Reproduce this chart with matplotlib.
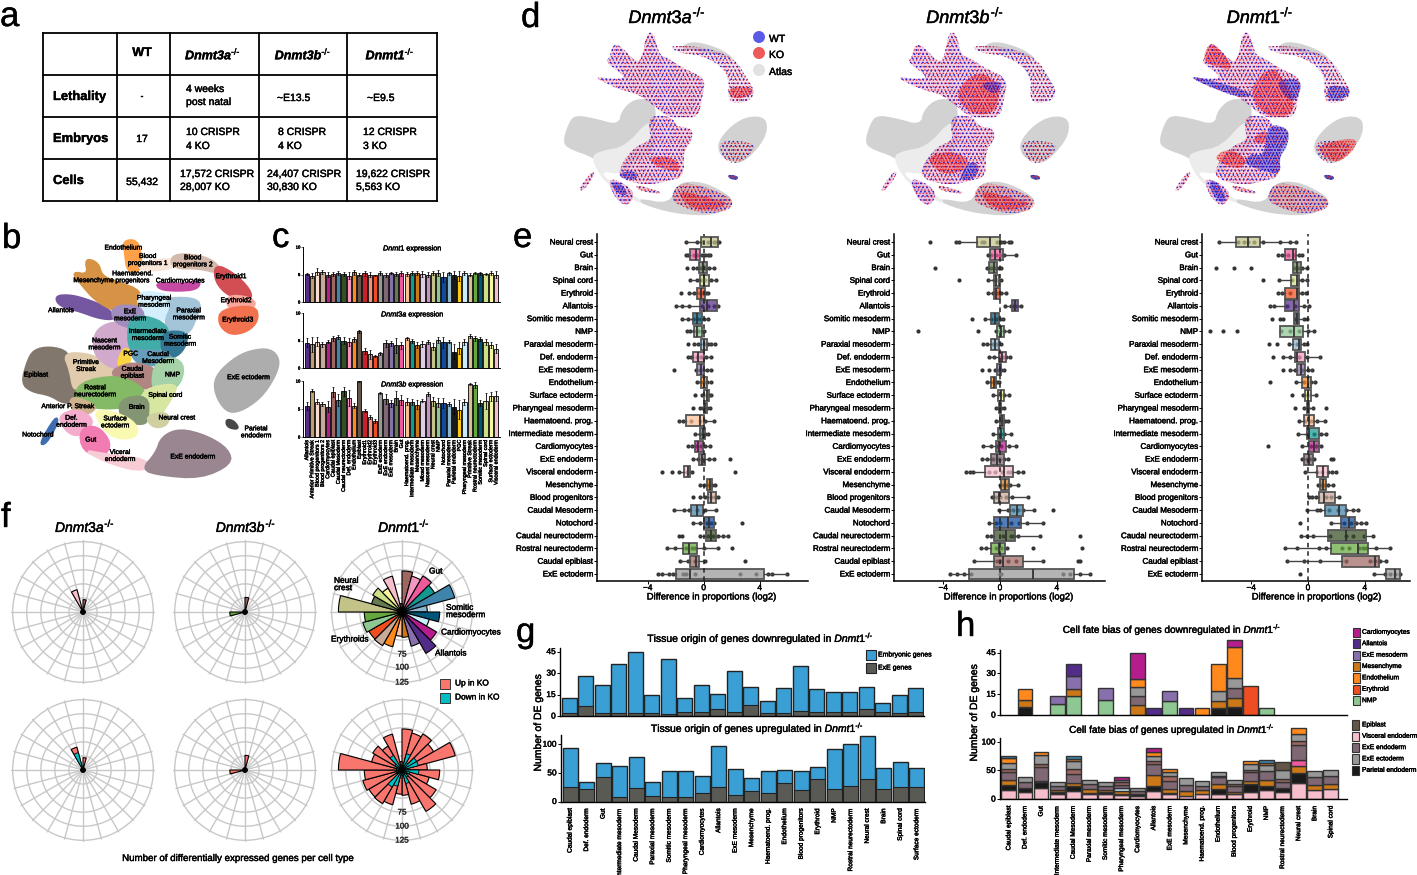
import numpy as np
import matplotlib
matplotlib.use('Agg')
import matplotlib.pyplot as plt
import matplotlib.patheffects as pe
from matplotlib.patches import Polygon, Rectangle, Circle
from matplotlib.text import Text

plt.rcParams['font.family'] = ['Liberation Sans', 'DejaVu Sans']
plt.rcParams['mathtext.fontset'] = 'custom'
plt.rcParams['mathtext.rm'] = 'Liberation Sans'
plt.rcParams['mathtext.it'] = 'Liberation Sans:italic'
plt.rcParams['mathtext.bf'] = 'Liberation Sans:bold'
plt.rcParams['mathtext.bfit'] = 'Liberation Sans:italic:bold'
plt.rcParams['hatch.linewidth'] = 0.65

W, H = 1417, 875

# cell type colours
COL = {
    'Allantois': '#532C8A', 'Anterior Primitive Streak': '#C19F70', 'Blood progenitors 1': '#F9DECF',
    'Blood progenitors 2': '#C9A997', 'Blood progenitors': '#C9A997', 'Cardiomyocytes': '#B51D8D',
    'Caudal epiblast': '#9E6762', 'Caudal Mesoderm': '#3F84AA', 'Caudal neurectoderm': '#354E23',
    'Def. endoderm': '#F397C0', 'Endothelium': '#FF891C', 'Epiblast': '#635547', 'Erythroid1': '#C72228',
    'Erythroid2': '#F79083', 'Erythroid3': '#EF4E22', 'Erythroid': '#EF4E22', 'ExE ectoderm': '#989898',
    'ExE endoderm': '#7F6874', 'ExE mesoderm': '#8870AD', 'Brain': '#647A4F', 'Gut': '#EF5A9D',
    'Haematoend. prog.': '#FBBE92', 'Intermediate mesoderm': '#139992', 'Mesenchyme': '#CC7818',
    'Mixed mesoderm': '#DFCDE4', 'Nascent mesoderm': '#C594BF', 'Neural crest': '#C3C388', 'NMP': '#8EC792',
    'Notochord': '#0F4A9C', 'Paraxial mesoderm': '#8DB5CE', 'Parietal endoderm': '#1A1A1A', 'PGC': '#FACB12',
    'Pharyngeal mesoderm': '#C9EBFB', 'Primitive Streak': '#DABE99', 'Rostral neurectoderm': '#65A83E',
    'Somitic mesoderm': '#005579', 'Spinal cord': '#CDE088', 'Surface ectoderm': '#F7F79E',
    'Visceral endoderm': '#F6BFCB',
}

# panel a
table_x = [43, 117, 170, 259, 347, 437]
table_y = [33, 75, 117, 159, 201]

# panel b, outlines (3x crop coordinates)
atlas_b = {
    'Epiblast': [(65,490),(80,430),(100,390),(150,380),(205,395),(220,450),(230,545),(190,550),(150,525),(95,515)],
    'Primitive Streak': [(190,400),(260,400),(320,425),(350,450),(320,485),(240,500),(220,510),(210,450)],
    'Nascent mesoderm': [(295,325),(340,305),(390,315),(395,390),(370,445),(345,445),(320,435),(285,405),(280,360)],
    'Allantois': [(165,228),(210,225),(260,238),(320,262),(350,298),(300,296),(240,274),(178,258)],
    'Mesenchyme': [(215,155),(265,165),(255,115),(295,128),(305,168),(350,185),(425,212),(420,265),(400,295),(350,275),(290,245),(245,195)],
    'Endothelium': [(370,62),(412,60),(425,110),(420,155),(382,155),(375,100)],
    'Blood progenitors 1': [(410,130),(525,112),(525,145),(430,155)],
    'Blood progenitors 2': [(515,102),(600,105),(655,132),(655,160),(600,145),(515,145)],
    'Erythroid1': [(645,132),(702,160),(750,208),(755,240),(688,230),(645,185)],
    'Erythroid2': [(678,225),(755,232),(770,262),(688,275)],
    'Erythroid3': [(662,268),(768,256),(775,302),(742,335),(690,345),(655,312)],
    'Cardiomyocytes': [(468,188),(550,192),(602,182),(592,208),(530,213),(478,208)],
    'Pharyngeal mesoderm': [(412,212),(505,222),(525,262),(505,305),(470,295),(418,274)],
    'Paraxial mesoderm': [(495,232),(605,236),(590,292),(565,345),(505,345),(495,300),(515,260)],
    'ExE mesoderm': [(335,258),(425,256),(435,312),(390,325),(340,304)],
    'Intermediate mesoderm': [(385,298),(432,285),(505,315),(505,375),(440,405),(385,395)],
    'Somitic mesoderm': [(485,335),(565,335),(555,385),(522,415),(485,405)],
    'Caudal Mesoderm': [(385,388),(440,392),(492,392),(525,422),(480,436),(415,436)],
    'PGC': [(365,388),(392,388),(390,435),(350,445)],
    'Caudal epiblast': [(335,450),(400,425),(475,448),(465,505),(400,505),(345,475)],
    'NMP': [(465,428),(522,410),(555,440),(535,505),(470,515),(455,492)],
    'Rostral neurectoderm': [(235,488),(350,465),(425,498),(445,545),(360,565),(285,565),(225,545)],
    'Spinal cord': [(425,508),(535,488),(515,535),(475,595),(438,595),(425,570)],
    'Brain': [(355,538),(445,525),(445,595),(432,615),(365,605)],
    'Neural crest': [(435,588),(505,575),(505,615),(460,625)],
    'Anterior Primitive Streak': [(210,525),(295,558),(262,585),(215,575)],
    'Surface ectoderm': [(280,565),(372,585),(415,620),(405,655),(345,655),(305,622)],
    'Def. endoderm': [(170,590),(232,565),(285,600),(252,645),(208,645)],
    'Notochord': [(118,672),(168,588),(174,608),(138,672)],
    'Gut': [(238,628),(292,616),(335,670),(312,710),(248,694)],
    'Visceral endoderm': [(248,690),(312,702),(445,718),(435,755),(340,735)],
    'ExE endoderm': [(485,650),(540,626),(622,648),(685,688),(695,732),(602,775),(478,765),(425,748),(468,700)],
    'ExE ectoderm': [(645,470),(698,418),(750,392),(812,386),(840,420),(824,472),(782,534),(720,575),(678,575),(645,522)],
    'Parietal endoderm': [(678,598),(702,603),(718,628),(682,622)],
}
b_labels = [
    ('Endothelium',370,84),('Blood\nprogenitors 1',443,120),('Blood\nprogenitors 2',578,124),('Erythroid1',693,170),
    ('Haematoend.\nprogenitors',397,172),('Mesenchyme',280,182),('Cardiomyocytes',540,183),('Erythroid2',708,242),
    ('Pharyngeal\nmesoderm',462,245),('Allantois',183,272),('Paraxial\nmesoderm',566,283),('ExE\nmesoderm',390,286),
    ('Erythroid3',713,300),('Nascent\nmesoderm',313,373),('Intermediate\nmesoderm',443,345),('Somitic\nmesoderm',540,362),
    ('PGC',392,402),('Caudal\nMesoderm',474,414),('Primitive\nStreak',258,438),('Caudal\nepiblast',397,458),
    ('NMP',517,465),('Epiblast',108,465),('ExE ectoderm',745,473),('Rostral\nneurectoderm',285,514),('Spinal cord',496,526),
    ('Anterior P. Streak',203,560),('Brain',410,562),('Neural crest',530,594),('Surface\nectoderm',345,607),
    ('Def.\nendoderm',214,605),('Notochord',113,645),('Gut',272,660),('Parietal\nendoderm',768,637),
    ('Viceral\nendoderm',360,708),('ExE endoderm',578,711),
]

# panel c
c_labels = ['Allantois', 'Anterior Primitive Streak', 'Blood progenitors 1', 'Blood progenitors 2', 'Cardiomyocytes',
            'Caudal epiblast', 'Caudal Mesoderm', 'Caudal neurectoderm', 'Def. endoderm', 'Endothelium', 'Epiblast',
            'Erythroid1', 'Erythroid2', 'Erythroid3', 'ExE ectoderm', 'ExE endoderm', 'ExE mesoderm', 'Brain', 'Gut',
            'Haematoend. prog.', 'Intermediate mesoderm', 'Mesenchyme', 'Mixed mesoderm', 'Nascent mesoderm',
            'Neural crest', 'NMP', 'Notochord', 'Paraxial mesoderm', 'Parietal endoderm', 'PGC', 'Pharyngeal mesoderm',
            'Primitive Streak', 'Rostral neurectoderm', 'Somitic mesoderm', 'Spinal cord', 'Surface ectoderm',
            'Visceral endoderm']
c_dnmt1 = [5.1,4.8,5.5,5.5,5.0,5.1,5.3,5.1,4.8,5.4,5.0,5.2,5.0,4.9,5.3,4.9,5.3,5.1,5.2,5.1,5.3,5.3,5.1,5.0,5.3,5.3,4.6,5.2,4.9,4.8,5.3,5.0,5.3,5.2,5.1,5.3,5.0]
c_dnmt1_err = [.2,.4,.6,.4,.4,.3,.3,.4,.6,.4,.3,.4,.4,.1,.3,.4,.2,.4,.5,.4,.3,.4,.6,.5,.4,.5,.9,.2,.7,.9,.3,.3,.2,.2,.2,.4,.6]
c_dnmt3a = [4.6,4.3,4.8,4.3,4.8,5.4,5.6,5.0,4.7,5.2,6.7,3.1,2.5,2.2,2.7,4.5,4.5,4.1,4.1,5.4,4.9,4.2,4.4,4.7,3.9,5.1,4.7,4.8,3.0,3.7,4.7,5.8,5.4,5.3,4.7,4.2,3.5]
c_dnmt3a_err = [.8,1.3,.8,.4,.3,.4,.4,.6,.7,.4,.3,.5,.8,.2,.3,.6,.5,1.3,.6,.3,.3,.6,.5,.4,.6,.6,1.0,.3,1.3,1.1,.6,.3,.4,.3,.6,.6,.8]
c_dnmt3b = [5.6,8.3,6.3,5.9,5.4,8.0,6.6,8.2,7.0,5.6,10.0,4.7,3.6,2.9,7.9,6.8,6.0,7.0,6.6,6.3,6.3,5.8,6.5,7.7,6.4,6.1,6.0,5.9,5.4,4.9,6.2,9.5,9.3,6.1,6.4,7.3,7.3]
c_dnmt3b_err = [.7,.3,.4,.4,1.0,.9,1.1,.8,1.4,.5,.2,.3,.3,.4,.2,.9,.6,1.2,.9,.6,.5,.8,.2,.3,.8,.8,.9,.4,1.3,1.7,.5,.2,.5,.5,1.4,.8,.9]

# panel d, outlines from the crop of the first UMAP
d_grey = [
    [(22,430),(40,370),(60,345),(120,355),(190,375),(200,330),(240,295),(295,300),(305,345),(285,420),(210,440),(200,490),(160,510),(110,470),(50,450)],
    [(488,425),(530,375),(580,348),(632,352),(638,395),(612,442),(560,492),(520,482),(492,462)],
    [(365,548),(440,543),(520,583),(538,610),(480,648),(360,642),(258,612),(248,594),(345,612)],
    [(375,145),(400,126),(440,128),(500,148),(545,182),(480,162),(420,152)],
]
d_light = [[(105,470),(140,452),(210,440),(285,355),(305,400),(295,455),(245,475),(205,525),(130,512),(185,560),(262,600),(252,612),(150,552)]]
d_cells = [
    [(110,228),(180,238),(215,232),(150,185),(165,172),(172,135),(195,135),(245,190),(262,170),(275,98),(297,98),(312,165),(340,175),(385,205),(452,235),(442,290),(430,352),(380,352),(340,352),(290,312),(250,282),(190,268)],
    [(290,345),(350,350),(365,380),(412,385),(412,420),(385,452),(388,530),(340,542),(300,552),(250,552),(190,532),(200,490),(240,440),(290,420),(280,380)],
    [(158,535),(200,545),(242,580),(216,622),(178,592)],
    [(68,572),(110,513),(122,520),(86,572)],
    [(240,553),(318,575),(312,582),(250,572)],
    [(362,558),(400,548),(472,568),(538,600),(522,632),(450,642),(385,622),(348,600)],
    [(340,138),(410,138),(472,148),(542,178),(578,238),(598,270),(588,302),(530,312),(518,282),(523,240),(498,197),(440,167),(400,162),(370,157)],
    [(490,430),(530,420),(600,430),(590,460),(550,492),(508,482)],
    [(518,523),(550,528),(548,540),(523,537)],
]
d_cells_alpha = [0.28, 0.28, 0.32, 0.28, 0.4, 0.3, 0.22, 0.08, 0.85]
d_cells_tone = ['#c85ab4', '#c85ab4', '#a84ac0', '#c85ab4', '#e06a80', '#e8707c', '#b878c8', '#f0a0a0', '#3030a0']
d_offsets = [0, 302, 596]
d_titles = ['Dnmt3a', 'Dnmt3b', 'Dnmt1']
d_title_x = [667, 965, 1260]
d_red = [
    [[(520,260),(590,260),(595,285),(530,300)],[(370,570),(450,590),(530,610),(450,635),(385,610)],[(280,470),(360,470),(380,520),(300,500)]],
    [[(290,280),(360,210),(430,250),(420,340),(340,345)],[(370,570),(450,590),(530,610),(450,635),(385,610)],[(200,470),(300,450),(350,500),(260,530)]],
    [[(170,135),(190,130),(240,190),(240,210),(190,200),(155,180)],[(290,270),(360,195),(400,240),(430,300),(420,350),(340,350)],
     [(300,420),(345,385),(350,420),(330,435)],[(190,470),(230,445),(290,475),(270,510),(210,490)],[(495,435),(620,410),(610,450),(560,490),(520,470)]],
]
d_blue = [
    [[(190,520),(240,510),(250,540),(200,535)],[(165,545),(200,550),(220,585),(190,585)]],
    [[(300,540),(340,480),(370,500),(350,540)],[(360,250),(440,240),(420,290)]],
    [[(110,230),(160,235),(280,270),(310,290),(250,290),(190,265)],[(370,240),(455,235),(440,300),(410,300)],[(525,255),(590,260),(600,285),(535,310)],
     [(350,370),(415,385),(410,440),(385,470),(390,525),(330,510),(275,490),(300,460),(340,470)],[(170,540),(200,545),(230,600),(200,610)]],
]

# panel e
e_rows = ['Neural crest', 'Gut', 'Brain', 'Spinal cord', 'Erythroid', 'Allantois', 'Somitic mesoderm', 'NMP',
          'Paraxial mesoderm', 'Def. endoderm', 'ExE mesoderm', 'Endothelium', 'Surface ectoderm', 'Pharyngeal mesoderm',
          'Haematoend. prog.', 'Intermediate mesoderm', 'Cardiomyocytes', 'ExE endoderm', 'Visceral endoderm',
          'Mesenchyme', 'Blood progenitors', 'Caudal Mesoderm', 'Notochord', 'Caudal neurectoderm',
          'Rostral neurectoderm', 'Caudal epiblast', 'ExE ectoderm']
e1_box = [(-.2,.55,1.0),(-.95,-.55,-.25),(-.35,-.05,.2),(-.3,0,.35),(-.45,-.2,.1),(-.3,.25,.95),(-.75,-.5,-.1),(-.7,-.45,-.1),
          (-.2,.05,.25),(-.75,-.4,0),(-.45,-.2,.05),(-.2,.05,.2),(0,.2,.4),(0,.1,.25),(-1.25,-.3,0),(-.3,-.05,.1),(-.65,-.4,-.05),
          (-.35,-.1,.1),(-1.4,-1.1,-.95),(.2,.45,.6),(.3,.5,.85),(-.9,-.5,-.05),(0,.35,.7),(.15,.55,.9),(-1.5,-1.05,-.5),(-.95,-.55,-.35),(-2.0,-1.0,4.3)]
e1_pts = [[-1.25,-.5,-.1,.3,.7,.9,1.1],[-1.3,-1.1,-.7,-.5,-.15,.1,.3,.45],[-1.2,-.75,-.5,-.2,.1,.35,.7],[-1.0,-.5,-.2,.1,.5,.85],
          [-1.6,-1.05,-.7,-.3,-.1,.15,.3],[-2.0,-1.55,-1.05,-.1,.3,.7,1.05],[-1.55,-1.1,-.8,-.5,-.2,.05,.3],[-1.2,-.95,-.7,-.4,-.15,0],
          [-1.1,-.7,-.4,0,.3,.55,.8],[-1.15,-.9,-.5,-.2,.15,.55],[-2.1,-.55,-.3,-.05,.2,.5],[-.5,-.2,0,.2,.5],[-.65,-.1,.15,.35,.5],
          [-.75,-.3,-.05,.2,.45],[-1.8,-1.5,-.9,-.3,.1,.7],[-.65,-.3,0,.1,.3],[-1.1,-.85,-.5,-.2,.1,.45],[-.8,-.4,-.1,.35,.7,1.85],
          [-3.0,-2.25,-1.8,-1.2,-.85,2.2],[-.3,.05,.35,.6,.8],[-.75,-.3,.1,.5,.8,1.05],[-2.15,-1.4,-1.05,-.5,.1,.85],[-.75,-.3,.2,.5,.75,2.75],
          [-1.75,-1.55,-.3,.3,.65,1.05,1.4,1.7],[-2.65,-2.05,-1.3,-.85,-.6,0,1.0,2.0],[-1.7,-1.15,-.6,.1,2.95],
          [-3.3,-3.0,-2.5,-2.2,-1.5,-1.25,-.6,2.6,3.7,4.6,4.85,5.95]]
e2_box = [(-1.65,-.7,0),(-.7,-.35,.2),(-.75,-.4,-.2),(-.45,-.3,-.1),(-.4,-.25,0),(.85,1.05,1.25),(-.65,-.35,-.05),(-.2,.05,.25),
          (-.65,-.35,-.1),(-.1,.15,.4),(-.2,0,.1),(-.6,-.4,-.25),(-.15,.05,.25),(-.1,0,.1),(0,.15,.3),(-.15,.05,.25),(-.3,-.05,.4),
          (-.65,-.2,.3),(-1.05,.3,.95),(.1,.35,.6),(-.4,-.1,.6),(.7,1.2,1.6),(-.45,.55,1.5),(-.4,.45,1.05),(-.6,-.05,.35),(-.4,.2,1.65),(-2.2,2.3,5.2)]
e2_pts = [[-4.9,-3.1,-2.9,-1.3,-1.1,-.2,.05,.3,.6,.75],[-.85,-.6,-.3,0,.3,1.1],[-4.6,-.9,-.6,-.3,-.1,.1],[-2.9,-.85,-.4,-.2,.05],
          [-.85,-.5,-.2,.1,.4],[.35,.8,1.0,1.2,1.45],[-1.95,-1.05,-.6,-.3,0,.2],[-5.8,-1.55,-.25,0,.3,.6],[-1.2,-.9,-.5,-.2,.05],
          [-.75,-.4,0,.2,.45,.7],[-1.25,-.75,-.35,-.1,.1,.3],[-.95,-.6,-.4,-.2,-.05],[-.5,-.1,.1,.3,.6],[-.3,-.1,0,.1,.25],[-.3,0,.2,.35,.55],
          [-.5,-.1,.1,.3,.75],[-1.2,-.6,-.2,.1,.65,1.1],[-1.25,-.9,-.5,-.1,.3,.55],[-2.4,-2.1,-1.9,-.8,-.35,.15,.55,.8,1.25,1.6],
          [0,.25,.5,.7,1.25],[-.55,-.3,0,.4,.85,2.0],[-.05,.55,.95,1.3,1.6,2.4,3.75],[-.75,-.3,0,.75,1.35,1.9,3.05],[-.95,-.6,.2,.8,1.0,1.3,2.85,5.65],
          [-1.35,-1.0,-.3,.1,.5,2.35,5.75],[-1.8,-.2,0,.55,1.15,3.0,5.5,5.6],[-3.5,-3.0,-2.55,-2.05,0,.1,4.45,4.9,5.6,6.35]]
e3_box = [(-5.1,-4.2,-3.35),(-1.65,-1.05,-.85),(-1.05,-.75,-.5),(-1.2,-.75,-.6),(-1.6,-.75,-.6),(-1.6,-1.0,-.6),(-1.0,-.8,-.65),(-2.0,-1.0,-.35),
          (-1.05,-.65,-.5),(-.95,-.75,-.2),(-.8,-.5,-.2),(-.45,0,.2),(-.2,0,.2),(-.1,0,.1),(-.3,.05,.45),(-.1,.1,.75),(.05,.4,.75),(-.25,.05,.35),
          (.65,1.05,1.4),(.85,1.05,1.25),(.75,1.1,1.9),(1.2,2.2,2.65),(2.35,2.9,3.3),(1.4,2.65,4.05),(1.6,3.5,4.2),(2.4,4.7,5.0),(5.5,6.15,6.5)]
e3_pts = [[-6.25,-4.9,-4.5,-4.2,-3.8,-3.2,-2.0,-1.3,-.85],[-2.1,-1.8,-1.4,-1.0,-.6,-.4],[-6.5,-5.2,-4.0,-1.0,-.7,-.4,-.05],[-3.2,-2.05,-1.1,-.7,-.4,-.05],
          [-2.1,-1.8,-1.3,-.7,-.4,-.15],[-2.65,-2.4,-1.5,-.9,-.3,.1],[-2.55,-1.95,-1.75,-.95,-.3,-.1],[-6.9,-6.0,-5.0,-1.9,-1.3,-.6,0,.4],
          [-2.75,-2.15,-1.35,-.8,-.3,-.05],[-2.5,-1.75,-1.3,-.6,-.1,.85],[-1.75,-1.3,-.9,-.4,0,.25],[-2.7,-.85,-.3,.2,.5],[-1.1,-.35,-.1,.1,.55],
          [-.95,-.25,0,.35,1.25],[-.6,-.2,.2,.6,1.2],[-.7,-.1,.4,.95,1.25],[-2.8,-.45,.2,.55,.9],[-.45,-.1,.15,.4,1.6,1.75],[-.2,.6,1.0,1.4,1.7,2.0],
          [.7,.95,1.2,1.4,1.75],[.05,.3,.55,1.3,1.6,2.15],[-.1,.65,.85,1.5,2.1,2.7,3.15,3.55],[-.55,1.65,2.5,3.0,3.4,3.75,4.1],
          [-.5,-.1,.35,1.55,2.7,3.2,3.95,4.6],[-1.6,-.75,.75,1.3,2.4,2.9,3.6,3.9,4.1,4.8,5.8],[-1.5,-.3,.85,2.7,4.4,4.7,5.1,5.5],[-.55,4.65,5.4,5.75,6.1,6.45]]

# panel f
f_types = ['Caudal epiblast', 'Def. endoderm', 'Gut', 'Intermediate mesoderm', 'Caudal Mesoderm', 'Paraxial mesoderm',
           'Somitic mesoderm', 'Pharyngeal mesoderm', 'Cardiomyocytes', 'Allantois', 'ExE mesoderm', 'Mesenchyme',
           'Haematoend. prog.', 'Endothelium', 'Blood progenitors', 'Erythroid', 'NMP', 'Rostral neurectoderm',
           'Neural crest', 'Brain', 'Spinal cord', 'Surface ectoderm', 'Visceral endoderm', 'ExE endoderm']
f_deg = [7.5 + 15 * i for i in range(24)]
f_3a_total = [22,4,4,4,4,4,4,4,4,4,4,4,4,4,4,4,4,4,4,4,4,4,41,4]
f_3b_total = [26,4,4,4,4,4,4,4,4,4,4,4,4,4,4,4,4,27,4,4,4,4,4,4]
f_1_total = [73,66,74,67,97,45,67,50,71,85,63,45,43,64,69,68,72,67,113,56,60,49,66,15]
f_3a_up = [22,4,4,4,4,4,4,4,4,4,4,4,4,4,4,4,4,4,4,4,4,4,42,4]
f_3a_down = [3,2,2,2,2,2,2,2,2,2,2,2,2,2,2,2,2,2,2,2,2,2,32,2]
f_3b_up = [26,4,4,4,4,4,4,4,4,4,4,4,4,4,4,4,4,27,4,4,4,4,4,4]
f_3b_down = [3,2,2,2,2,2,2,2,2,2,2,2,2,3,2,2,2,3,2,2,2,2,2,2]
f_1_up = [73,68,74,65,98,45,67,50,70,85,63,45,43,64,69,68,72,67,113,56,60,49,66,15]
f_1_down = [6,30,15,30,30,10,30,15,10,15,25,10,8,30,35,10,10,10,10,10,15,30,5,5]

# panel g
g_types = ['Caudal epiblast', 'Def. endoderm', 'Gut', 'Intermediate mesoderm', 'Caudal Mesoderm', 'Paraxial mesoderm',
           'Somitic mesoderm', 'Pharyngeal mesoderm', 'Cardiomyocytes', 'Allantois', 'ExE mesoderm', 'Mesenchyme',
           'Haematoend. prog.', 'Endothelium', 'Blood progenitors', 'Erythroid', 'NMP', 'Rostral neurectoderm',
           'Neural crest', 'Brain', 'Spinal cord', 'Surface ectoderm']
g_down_total = [12.5,28,22,36,45,14.5,40,12.5,22,15.5,31.5,20,10.5,19.5,35,19,17,17,20.5,9,14.5,19.5]
g_down_exe = [2,7,2,2,2,2,1.5,3,3,5,3,7.5,2,2,3.5,3,3,3,5,3,2,3]
g_up_total = [93,34,67,62,77,34,54,54,44,97,56,41,53,55,54,61,91,101,115,58,69,58]
g_up_exe = [25,21,42,8,24,10,8,8,15,26,12,18,14,33,20,39,22,27,40,22,25,26]

# panel h
h_types = g_types[:21]
h_down = {
    'Parietal endoderm': [0,6,0,0,0,0,0,0,0,0,0,0,0,5,5.5,0,0,0,0,0,0],
    'NMP': [0,0,0,8,14,0,11,0,0,0,10,0,0,0,0,0,5,0,0,0,0],
    'Mesenchyme': [0,5,0,0,5,0,0,0,7,0,0,0,0,5,7,0,0,0,0,0,0],
    'ExE endoderm': [0,0,0,0,0,0,0,0,7,0,0,0,0,0,7,0,0,0,0,0,0],
    'ExE ectoderm': [0,0,0,0,0,0,0,0,6,0,0,0,0,7,7,0,0,0,0,0,0],
    'ExE mesoderm': [0,0,0,5.5,9,0,8.5,0,0,0,7,0,0,0,0,0,0,0,0,0,0],
    'Endothelium': [0,7.5,0,0,0,0,0,0,6,0,0,0,5,20,22.5,0,0,0,0,0,0],
    'Erythroid': [0,0,0,0,0,0,0,0,0,0,0,0,0,0,0,21,0,0,0,0,0],
    'Allantois': [0,0,0,0,9,0,0,0,0,5,0,5,0,0,0,0,0,0,0,0,0],
    'Cardiomyocytes': [0,0,0,0,0,0,0,0,18.5,0,0,0,0,0,5,0,0,0,0,0,0],
}
h_up = {
    'Visceral endoderm': [15,12,20,9,14,8,9,7,6,14,9,6,8,8,8,13,15,12,28,16,17],
    'Parietal endoderm': [9,8,9,3,8,2,3,2,2,8,1,0,0,10,0,13,7,7,17,0,0],
    'Mesenchyme': [10,0,0,4,6,7,4,5,1,20,8,8,8,8,5,6,11,0,13,8,10],
    'Gut': [0,0,3,0,0,0,0,0,0,0,0,0,0,0,0,0,0,0,10,0,0],
    'Pharyngeal mesoderm': [0,0,0,0,0,0,0,5,0,0,0,0,0,0,0,0,0,0,0,0,0],
    'ExE endoderm': [14,9,24,7,15,9,7,6,5,20,13,11,7,13,10,16,16,11,27,15,14],
    'Caudal epiblast': [4,0,6,0,10,0,0,4,0,4,10,0,0,1,3,3,0,5,7,0,0],
    'ExE ectoderm': [11,10,15,7,13,8,7,4,6,10,7,11,9,8,8,11,10,15,12,10,10],
    'Epiblast': [0,0,0,0,0,0,0,0,0,0,0,0,0,0,0,0,0,15,0,0,0],
    'Endothelium': [9,0,6,0,4,0,0,0,0,7,5,0,0,0,0,5,5,0,11,0,0],
    'Caudal Mesoderm': [4,0,0,0,6,0,0,0,0,0,0,0,0,0,0,0,5,0,0,0,0],
    'Cardiomyocytes': [0,0,0,0,0,0,0,6,0,7,0,0,0,0,0,0,0,0,0,0,0],
}
h_leg_top = ['Cardiomyocytes', 'Allantois', 'ExE mesoderm', 'Mesenchyme', 'Endothelium', 'Erythroid', 'NMP']
h_leg_bot = ['Epiblast', 'Visceral endoderm', 'ExE endoderm', 'ExE ectoderm', 'Parietal endoderm']


def ax_px(x0, y0, x1, y1, **kw):
    ax = fig.add_axes([x0 / W, 1 - y1 / H, (x1 - x0) / W, (y1 - y0) / H], **kw)
    ax.patch.set_alpha(0)
    return ax


def gene(name, bold=False):
    fn = 'mathbfit' if bold else 'mathit'
    return rf'$\{fn}{{{name}}}^{{\text{{-/-}}}}$'


def clean(ax, lw=1.0):
    ax.spines['top'].set_visible(False)
    ax.spines['right'].set_visible(False)
    ax.spines['left'].set_linewidth(lw)
    ax.spines['bottom'].set_linewidth(lw)


def round_off(pts, n=2):
    # corner cutting so the traced outlines look less angular
    p = np.array(pts, dtype=float)
    for _ in range(n):
        q = np.roll(p, -1, axis=0)
        p = np.column_stack([0.75 * p + 0.25 * q, 0.25 * p + 0.75 * q]).reshape(-1, 2)
    return p


def lighten(c, f=0.25):
    return tuple(v + (1 - v) * f for v in matplotlib.colors.to_rgb(c))


fig = plt.figure(figsize=(W / 100, H / 100), dpi=100)
bg = fig.add_axes([0, 0, 1, 1])
bg.set_xlim(0, W)
bg.set_ylim(H, 0)
bg.axis('off')

for letter, x, y in [('a', 0, 26), ('b', 2, 248), ('c', 272, 247), ('d', 521, 27), ('e', 513, 247),
                     ('f', 1, 527), ('g', 516, 642), ('h', 956, 636)]:
    bg.text(x, y, letter, fontsize=25, va='baseline', ha='left')

# a: table
for x in table_x:
    bg.plot([x, x], [table_y[0], table_y[-1]], color='black', lw=1.3, solid_capstyle='projecting')
for y in table_y:
    bg.plot([table_x[0], table_x[-1]], [y, y], color='black', lw=1.3, solid_capstyle='projecting')
bg.text(142, 53, 'WT', fontsize=9, weight='bold', ha='center', va='center')
for x, name in zip([213, 303, 390], d_titles):
    bg.text(x, 54, gene(name, bold=True), fontsize=9, ha='center', va='center')
for y, name in zip([97, 139, 181], ['Lethality', 'Embryos', 'Cells']):
    bg.text(53, y, name, fontsize=9.3, weight='bold', ha='left', va='center')
table_cells = [(142, 96, '-', 'center'), (186, 89, '4 weeks', 'left'), (186, 102, 'post natal', 'left'),
               (277, 98, '~E13.5', 'left'), (367, 98, '~E9.5', 'left'), (142, 139, '17', 'center'),
               (186, 132, '10 CRISPR', 'left'), (186, 146, '4 KO', 'left'), (278, 132, '8 CRISPR', 'left'),
               (278, 146, '4 KO', 'left'), (363, 132, '12 CRISPR', 'left'), (363, 146, '3 KO', 'left'),
               (142, 182, '55,432', 'center'), (180, 174, '17,572 CRISPR', 'left'), (180, 187, '28,007 KO', 'left'),
               (267, 174, '24,407 CRISPR', 'left'), (267, 187, '30,830 KO', 'left'), (356, 174, '19,622 CRISPR', 'left'),
               (356, 187, '5,563 KO', 'left')]
for x, y, s, ha in table_cells:
    bg.text(x, y, s, fontsize=7.5, ha=ha, va='center')

# b: atlas umap
for name, pts in atlas_b.items():
    xy = [(px / 3, 220 + py / 3) for px, py in round_off(pts)]
    c = lighten(COL[name], 0.2)
    bg.add_patch(Polygon(xy, closed=True, fc=c, ec=c, lw=1.6, joinstyle='round'))
for s, px, py in b_labels:
    bg.text(px / 3, 220 + py / 3, s, fontsize=4.9, ha='center', va='center', linespacing=1.0, color='black')

# c: expression bars
c_pos = np.arange(len(c_labels))
c_colors = [COL[n] for n in c_labels]
c_sets = [(247, 302, c_dnmt1, c_dnmt1_err, 'Dnmt1', 249), (313, 368, c_dnmt3a, c_dnmt3a_err, 'Dnmt3a', 315),
          (381, 437, c_dnmt3b, c_dnmt3b_err, 'Dnmt3b', 385)]
for i, (top, bot, vals, errs, name, ty) in enumerate(c_sets):
    ax = ax_px(303, top, 500, bot)
    ax.bar(c_pos, vals, width=0.8, color=c_colors, edgecolor='black', lw=0.6,
           yerr=errs, error_kw=dict(ecolor='black', lw=0.6, capsize=0.9, capthick=0.5))
    ax.set_xlim(-0.7, 36.75)
    ax.set_ylim(0, 10)
    ax.set_yticks([0, 5, 10])
    ax.tick_params(axis='y', labelsize=3, length=1.5, width=0.4, pad=0.5)
    clean(ax, 0.7)
    if i == 2:
        ax.set_xticks(c_pos)
        ax.set_xticklabels(c_labels, rotation=90, fontsize=3.9)
        ax.tick_params(axis='x', length=0, pad=2)
    else:
        ax.set_xticks([])
    bg.text(413, ty, rf'$\mathit{{{name}}}$ expression', fontsize=5.2, ha='center', va='center')

# d: umaps by genotype
for k, off in enumerate(d_offsets):
    to_px = lambda pts: [(555 + off + px / 3, py / 3) for px, py in round_off(pts)]
    for pts in d_grey:
        bg.add_patch(Polygon(to_px(pts), closed=True, fc='#d2d2d2', ec='none'))
    for pts in d_light:
        bg.add_patch(Polygon(to_px(pts), closed=True, fc='#ececec', ec='none'))
    for pts, tone, a in zip(d_cells, d_cells_tone, d_cells_alpha):
        bg.add_patch(Polygon(to_px(pts), closed=True, fc=matplotlib.colors.to_rgba(tone, a), ec='none'))
    for pts in d_red[k]:
        bg.add_patch(Polygon(to_px(pts), closed=True, fc=matplotlib.colors.to_rgba('#ee2a2a', 0.4), ec='none'))
    for pts in d_blue[k]:
        bg.add_patch(Polygon(to_px(pts), closed=True, fc=matplotlib.colors.to_rgba('#2222cc', 0.4), ec='none'))
    for pts in d_cells:
        bg.add_patch(Polygon(to_px(pts), closed=True, fc='none', ec='#e8202a', lw=0, hatch='.....'))
        bg.add_patch(Polygon(to_px(pts), closed=True, fc='none', ec='#2020d0', lw=0, hatch='....'))
    for pts in d_red[k]:
        bg.add_patch(Polygon(to_px(pts), closed=True, fc='none', ec='#f01818', lw=0, hatch='......'))
    for pts in d_blue[k]:
        bg.add_patch(Polygon(to_px(pts), closed=True, fc='none', ec='#1414c8', lw=0, hatch='......'))
    bg.text(d_title_x[k], 17, gene(d_titles[k]), fontsize=13, ha='center', va='center')
for y, c, s in [(37, '#5a5ae6', 'WT'), (53, '#ec5a5a', 'KO'), (70, '#e2e2e2', 'Atlas')]:
    bg.add_patch(Circle((759, y), 6, fc=c, ec='none'))
    bg.text(769, y + 2, s, fontsize=7.5, ha='left', va='center')

# e: boxplots
e_sets = [(e1_box, e1_pts, 597, 808, 14.0, 703.7, 712), (e2_box, e2_pts, 894, 1105, 14.2, 1000, 1009),
          (e3_box, e3_pts, 1202, 1410, 14.2, 1308, 1317)]
for boxes, pts, x0, x1, ppu, zero, lab_x in e_sets:
    ax = ax_px(x0, 234, x1, 581)
    stats = []
    for (q1, med, q3), p in zip(boxes, pts):
        iqr = q3 - q1
        lo = min([v for v in p if v >= q1 - 1.5 * iqr] + [q1])
        hi = max([v for v in p if v <= q3 + 1.5 * iqr] + [q3])
        stats.append(dict(q1=q1, med=med, q3=q3, whislo=lo, whishi=hi, fliers=[]))
    for i, p in enumerate(pts):
        ax.scatter(p, [i] * len(p), s=9, color='#333333', zorder=1, lw=0)
    res = ax.bxp(stats, positions=range(len(e_rows)), widths=0.85, orientation='horizontal', patch_artist=True,
                 showcaps=False, showfliers=False, manage_ticks=False, zorder=2,
                 boxprops=dict(edgecolor='#555555', lw=1.3),
                 medianprops=dict(color='#333333', lw=1.3),
                 whiskerprops=dict(color='#444444', lw=1.0))
    for box, name in zip(res['boxes'], e_rows):
        box.set_facecolor(matplotlib.colors.to_rgba(COL[name], 0.72))
    ax.axvline(0, color='#222222', lw=1.1, ls=(0, (3, 2.5)), zorder=3)
    ax.set_xlim((x0 - zero) / ppu, (x1 - zero) / ppu)
    ax.set_ylim(26.55, -0.63)
    ax.set_yticks(range(len(e_rows)))
    ax.set_yticklabels(e_rows, fontsize=5.8)
    ax.set_xticks([-4, 0, 4])
    ax.set_xticklabels(['\u22124', '0', '4'], fontsize=6)
    ax.tick_params(axis='both', length=2, width=0.7, pad=1)
    clean(ax, 1.1)
    bg.text(lab_x, 597, 'Difference in proportions (log2)', fontsize=6.8, ha='center', va='center')


# f: polar bars
def polar(cx, cy):
    R = 72
    ax = ax_px(cx - R, cy - R, cx + R, cy + R, projection='polar')
    ax.set_theta_zero_location('N')
    ax.set_theta_direction(-1)
    ax.set_rlim(0, 128)
    ax.set_yticks([25, 50, 75, 100, 125])
    ax.set_xticks(np.radians(np.arange(0, 360, 15)))
    ax.set_xticklabels([])
    ax.set_yticklabels([])
    ax.grid(color='#c8c8c8', lw=1.0)
    ax.spines['polar'].set_visible(False)
    ax.set_axisbelow(True)
    return ax


theta = np.radians(f_deg)
f_width = np.radians(15)
f_colors = [COL[n] for n in f_types]
for cx, total in [(83, f_3a_total), (245, f_3b_total), (402, f_1_total)]:
    ax = polar(cx, 612)
    ax.bar(theta, total, width=f_width, color=f_colors, edgecolor='black', lw=0.8)
for cx, up, down in [(83, f_3a_up, f_3a_down), (245, f_3b_up, f_3b_down), (402, f_1_up, f_1_down)]:
    ax = polar(cx, 770)
    ax.bar(theta, up, width=f_width, color='#F8766D', edgecolor='black', lw=0.8)
    ax.bar(theta, down, width=f_width, color='#00BFC4', edgecolor='black', lw=0.6)
for x, name in zip([85, 246, 404], d_titles):
    bg.text(x, 526, gene(name), fontsize=10, ha='center', va='center')

# labels that sit on top of the polar axes
top = fig.add_axes([0, 0, 1, 1], zorder=20)
top.set_xlim(0, W)
top.set_ylim(H, 0)
top.axis('off')
for s, x, y in [('Gut', 429, 572), ('Neural\ncrest', 334, 585), ('Somitic\nmesoderm', 446, 612),
                ('Cardiomyocytes', 441, 633), ('Allantois', 435, 654), ('Erythroids', 331, 640)]:
    top.text(x, y, s, fontsize=6, ha='left', va='center', linespacing=1.05)
for y, s in [(655, '75'), (668, '100'), (683, '125'), (813, '75'), (827, '100'), (841, '125')]:
    top.text(402, y, s, fontsize=5.8, ha='center', va='center', color='#333333')
bg.add_patch(Rectangle((440, 679), 10, 10, fc='#F8766D', ec='#333333', lw=0.7))
bg.add_patch(Rectangle((440, 693), 10, 10, fc='#00BFC4', ec='#333333', lw=0.7))
bg.text(455, 684, 'Up in KO', fontsize=6, va='center')
bg.text(455, 698, 'Down in KO', fontsize=6, va='center')
bg.text(238, 858, 'Number of differentially expressed genes per cell type', fontsize=7, ha='center', va='center')

# g: tissue origin
g_pos = np.arange(len(g_types))
ax = ax_px(560, 648, 924, 716)
ax.bar(g_pos, g_down_total, width=0.9, color='#3A9FD5', edgecolor='#222222', lw=1.0)
ax.bar(g_pos, g_down_exe, width=0.9, color='#5A5A55', edgecolor='#222222', lw=0.8)
ax.set_xlim(-0.55, 21.5)
ax.set_ylim(0, 47.5)
ax.set_yticks([0, 15, 30, 45])
ax.set_xticks([])
ax.tick_params(axis='y', labelsize=6, length=2, width=0.7, pad=1)
clean(ax)

ax = ax_px(561, 735, 925, 801.5)
ax.bar(g_pos, g_up_total, width=0.9, color='#3A9FD5', edgecolor='#222222', lw=1.0)
ax.bar(g_pos, g_up_exe, width=0.9, color='#5A5A55', edgecolor='#222222', lw=0.8)
ax.set_xlim(-0.55, 21.5)
ax.set_ylim(0, 116)
ax.set_yticks([0, 50, 100])
ax.set_xticks(g_pos)
ax.set_xticklabels(g_types, rotation=90, fontsize=4.7)
ax.tick_params(axis='y', labelsize=6, length=2, width=0.7, pad=1)
ax.tick_params(axis='x', length=0, pad=5)
clean(ax)

bg.text(760, 638, 'Tissue origin of genes downregulated in ' + gene('Dnmt1'), fontsize=7.5, ha='center', va='center')
bg.text(757, 728, 'Tissue origin of genes upregulated in ' + gene('Dnmt1'), fontsize=7.5, ha='center', va='center')
bg.text(538, 723, 'Number of DE genes', fontsize=7.5, rotation=90, ha='center', va='center')
bg.add_patch(Rectangle((866, 650), 10, 9.5, fc='#3A9FD5', ec='#222222', lw=0.8))
bg.add_patch(Rectangle((866, 663), 10, 9.5, fc='#5A5A55', ec='#222222', lw=0.8))
bg.text(878, 655, 'Embryonic genes', fontsize=5, va='center')
bg.text(878, 668, 'ExE genes', fontsize=5, va='center')


# h: cell fate bias
def stacked(ax, series):
    bottom = np.zeros(len(h_types))
    for name, vals in series.items():
        vals = np.array(vals, dtype=float)
        ax.bar(h_pos[vals > 0], vals[vals > 0], bottom=bottom[vals > 0], width=0.92, color=COL[name],
               edgecolor='#333333', lw=1.0)
        bottom += vals


h_pos = np.arange(len(h_types))
ax = ax_px(1000, 636, 1347, 715)
stacked(ax, h_down)
ax.set_xlim(-0.55, 21.0)
ax.set_ylim(0, 56.9)
ax.set_yticks([0, 15, 30, 45])
ax.set_xticks([])
ax.tick_params(axis='y', labelsize=6, length=2, width=0.7, pad=1)
clean(ax)
ax.spines['left'].set_bounds(0, 47)

ax = ax_px(1000, 727, 1347, 799)
stacked(ax, h_up)
ax.set_xlim(-0.55, 21.0)
ax.set_ylim(0, 126.3)
ax.set_yticks([0, 50, 100])
ax.set_xticks(h_pos)
ax.set_xticklabels(h_types, rotation=90, fontsize=4.7)
ax.tick_params(axis='y', labelsize=6, length=2, width=0.7, pad=1)
ax.tick_params(axis='x', length=0, pad=5)
clean(ax)
ax.spines['left'].set_bounds(0, 107)

bg.text(1172, 629, 'Cell fate bias of genes downregulated in ' + gene('Dnmt1'), fontsize=7.2, ha='center', va='center')
bg.text(1172, 729, 'Cell fate bias of genes upregulated in ' + gene('Dnmt1'), fontsize=7.2, ha='center', va='center')
bg.text(974, 713, 'Number of DE genes', fontsize=7.5, rotation=90, ha='center', va='center')
for i, name in enumerate(h_leg_top):
    y = 627.7 + i * 11.4
    bg.add_patch(Rectangle((1352.7, y), 7.3, 9.3, fc=COL[name], ec='#333333', lw=0.8))
    bg.text(1362, y + 4.6, name, fontsize=4.8, va='center')
for i, name in enumerate(h_leg_bot):
    y = 720.3 + i * 11.35
    bg.add_patch(Rectangle((1351.7, y), 7.6, 9.3, fc=COL[name], ec='#333333', lw=0.8))
    bg.text(1362, y + 4.6, name, fontsize=4.8, va='center')

# the printed figure has slightly heavier small print
for t in fig.findobj(Text):
    t.set_path_effects([pe.withStroke(linewidth=0.3, foreground=t.get_color())])

fig.savefig('out.png', dpi=100)
